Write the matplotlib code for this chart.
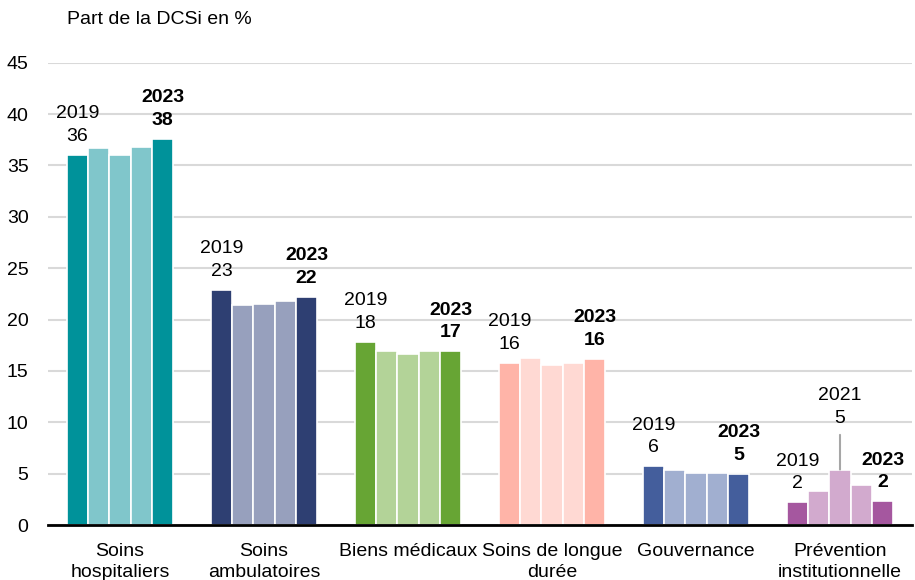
import matplotlib.pyplot as plt
import numpy as np

plt.rcParams['font.family'] = ['Liberation Sans', 'DejaVu Sans']

categories = ["Soins\nhospitaliers", "Soins\nambulatoires", "Biens médicaux",
              "Soins de longue\ndurée", "Gouvernance", "Prévention\ninstitutionnelle"]
years = [2019, 2020, 2021, 2022, 2023]

# part of DCSi (%) per category, years 2019..2023
hospitaliers = [36.0, 36.7, 36.0, 36.8, 37.6]
ambulatoires = [22.9, 21.4, 21.5, 21.8, 22.2]
biens_medicaux = [17.8, 16.9, 16.6, 16.9, 16.9]
longue_duree = [15.8, 16.3, 15.6, 15.8, 16.2]
gouvernance = [5.7, 5.4, 5.1, 5.1, 5.0]
prevention = [2.2, 3.3, 5.4, 3.9, 2.3]
values = [hospitaliers, ambulatoires, biens_medicaux, longue_duree, gouvernance, prevention]

dark_colors = ["#00929A", "#2E3F72", "#67A534", "#FFB4A8", "#445E9C", "#A5579F"]
light_colors = ["#80C6CB", "#97A0BD", "#B3D398", "#FFD9D3", "#A1AFD0", "#D2AACE"]

fig = plt.figure(figsize=(9.15, 5.8), dpi=100)
ax = fig.add_axes([48 / 915, 55 / 580, 864 / 915, (525 - 62.7) / 580])

width = 0.148
x = np.arange(len(categories))
for i, vals in enumerate(values):
    for j, v in enumerate(vals):
        col = dark_colors[i] if j in (0, 4) else light_colors[i]
        xpos = x[i] + (j - 2) * width
        ax.bar(xpos, v, width=width, color=col, edgecolor="white", linewidth=1.2, zorder=3)

    # labels for first and last year
    ax.annotate(f"{years[0]}\n{round(vals[0])}", (x[i] - 2 * width, vals[0]),
                xytext=(0, 10), textcoords="offset pixels", ha="center", va="bottom",
                fontsize=14, linespacing=1.45)
    ax.annotate(f"{years[4]}\n{round(vals[4])}", (x[i] + 2 * width, vals[4]),
                xytext=(0, 10), textcoords="offset pixels", ha="center", va="bottom",
                fontsize=14, fontweight="bold", linespacing=1.45)

# 2021 peak for prevention, with leader line
ax.annotate(f"{years[2]}\n{round(prevention[2])}", (x[5], prevention[2]),
            xytext=(0, 43), textcoords="offset pixels", ha="center", va="bottom",
            fontsize=14, linespacing=1.45,
            arrowprops=dict(arrowstyle="-", color="#A6A6A6", lw=1.5, shrinkA=4, shrinkB=0))

ax.set_xlim(-0.5, 5.5)
ax.set_ylim(0, 45)
ax.set_yticks(range(0, 46, 5))
ax.set_xticks(x)
ax.set_xticklabels(categories, fontsize=14, linespacing=1.3)
ax.tick_params(axis="y", labelsize=14, length=0, pad=14)
ax.tick_params(axis="x", length=0, pad=13)
ax.grid(axis="y", color="#D9D9D9", linewidth=1.5, zorder=0)
for s in ["top", "right", "left"]:
    ax.spines[s].set_visible(False)
ax.spines["bottom"].set_linewidth(2)
ax.spines["bottom"].set_zorder(4)

fig.text(67 / 915, 1 - 20 / 580, "Part de la DCSi en %", fontsize=14, va="center", ha="left")

fig.savefig("out.png", dpi=100)
